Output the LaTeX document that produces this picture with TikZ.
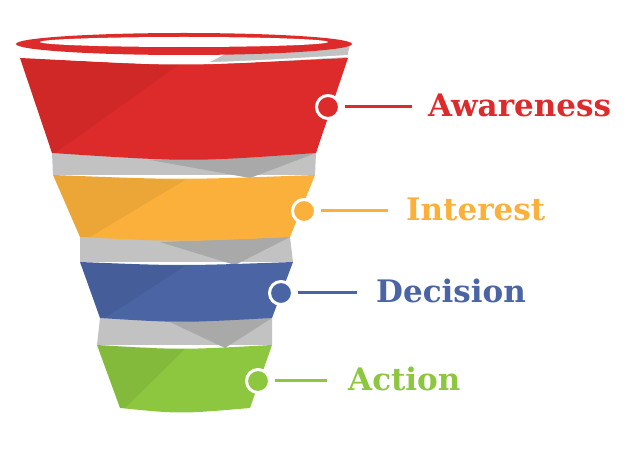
\documentclass[tikz,border=0pt]{standalone}
\usepackage{fontspec}
\setmainfont{DejaVu Serif}
\definecolor{cred}{HTML}{DD2A2A}
\definecolor{cyel}{HTML}{FBB03B}
\definecolor{cblu}{HTML}{4A64A4}
\definecolor{cgrn}{HTML}{8DC63F}
\definecolor{gl}{HTML}{C2C2C2}
\definecolor{gd}{HTML}{A9A9A9}
\begin{document}
\begin{tikzpicture}[x=1pt,y=-1pt,
  lbl/.style={anchor=west,font=\bfseries\fontsize{31}{34}\selectfont,inner sep=0},
  dot/.style={circle,draw=white,line width=3pt,minimum size=23pt,inner sep=0},
  lead/.style={line width=3pt}]
\useasboundingbox (0,0) rectangle (630,449);
% gray connectors
\fill[gl] (52,153) -- (316,153) -- (315,175) -- (53,175) -- cycle;
\fill[gd] (150,160) -- (316,153) -- (250,178) -- cycle;
\fill[gl] (80,237) -- (290,237) -- (293,262) -- (80,262) -- cycle;
\fill[gd] (160,242) -- (290,237) -- (235,265) -- cycle;
\fill[gl] (100,318) -- (272,318) -- (272,345) -- (97,345) -- cycle;
\fill[gd] (170,322) -- (272,318) -- (225,348) -- cycle;
% red band
\fill[gl] (245,44) -- (350,44) -- (346,62) -- (210,62) -- cycle;
\fill[cred] (20,58) .. controls (180,66) .. (348,58) -- (316,153) .. controls (190,162) .. (52,153) -- cycle;
\fill[black,opacity=0.06] (20,58) .. controls (100,62) .. (180,64) -- (55,153) -- (52,153) -- cycle;
\draw[white,line width=2pt] (20,56) .. controls (180,66) .. (348,56);
\fill[cred] (184,44) ellipse[x radius=168,y radius=11];
\fill[white] (184,42) ellipse[x radius=144,y radius=5];
% yellow band
\fill[cyel] (53,175) .. controls (180,180) .. (315,175) -- (290,237) .. controls (180,242) .. (80,237) -- cycle;
\fill[black,opacity=0.06] (53,175) -- (185,180) -- (90,237) -- (80,237) -- cycle;
% blue band
\fill[cblu] (80,262) .. controls (180,266) .. (293,262) -- (272,318) .. controls (180,323) .. (100,318) -- cycle;
\fill[black,opacity=0.06] (80,262) -- (185,266) -- (105,318) -- (100,318) -- cycle;
% green band
\fill[cgrn] (97,345) .. controls (180,350) .. (272,345) -- (250,408) .. controls (180,414) .. (120,408) -- cycle;
\fill[black,opacity=0.06] (97,345) -- (185,349) -- (125,408) -- (120,408) -- cycle;
% labels
\node[dot,fill=cred] (d1) at (328,107) {};
\node[lbl,text=cred] (t1) at (428,105) {Awareness};
\draw[lead,cred] (d1.east) ++(4,0) -- (412,107);
\node[dot,fill=cyel] (d2) at (304,211) {};
\node[lbl,text=cyel] (t2) at (406,209) {Interest};
\draw[lead,cyel] (d2.east) ++(4,0) -- (388,211);
\node[dot,fill=cblu] (d3) at (281,293) {};
\node[lbl,text=cblu] (t3) at (376,291) {Decision};
\draw[lead,cblu] (d3.east) ++(4,0) -- (357,293);
\node[dot,fill=cgrn] (d4) at (258,381) {};
\node[lbl,text=cgrn] (t4) at (348,379) {Action};
\draw[lead,cgrn] (d4.east) ++(4,0) -- (327,381);
\end{tikzpicture}
\end{document}
